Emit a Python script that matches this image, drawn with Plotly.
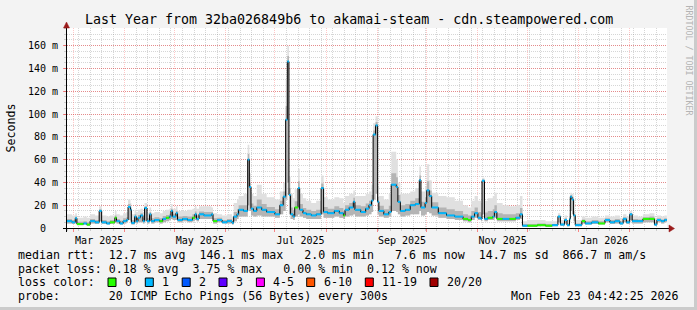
import plotly.graph_objects as go

# ---------------- data ----------------
dates = [
    "2025-02-25", "2025-02-28", "2025-03-02", "2025-03-03", "2025-03-07", "2025-03-09",
    "2025-03-11", "2025-03-14", "2025-03-16 12:00", "2025-03-18", "2025-03-21", "2025-03-23",
    "2025-03-26", "2025-03-27", "2025-03-29", "2025-03-31", "2025-04-02", "2025-04-03",
    "2025-04-04 12:00", "2025-04-05", "2025-04-07", "2025-04-08", "2025-04-09", "2025-04-10 12:00",
    "2025-04-12", "2025-04-13", "2025-04-14 12:00", "2025-04-16", "2025-04-17", "2025-04-19",
    "2025-04-22", "2025-04-24", "2025-04-26", "2025-04-28", "2025-04-29", "2025-04-30",
    "2025-05-02", "2025-05-03", "2025-05-06", "2025-05-09", "2025-05-12", "2025-05-13 12:00",
    "2025-05-14 12:00", "2025-05-16", "2025-05-19", "2025-05-23 12:00", "2025-05-24 12:00", "2025-05-27",
    "2025-05-30", "2025-06-02", "2025-06-05", "2025-06-06", "2025-06-08", "2025-06-09",
    "2025-06-12", "2025-06-14 12:00", "2025-06-15 12:00", "2025-06-16 12:00", "2025-06-18", "2025-06-20",
    "2025-06-23", "2025-06-26", "2025-07-01", "2025-07-04", "2025-07-06", "2025-07-07 12:00",
    "2025-07-08 12:00", "2025-07-09 12:00", "2025-07-10 12:00", "2025-07-12", "2025-07-13", "2025-07-15",
    "2025-07-16", "2025-07-18", "2025-07-20", "2025-07-23", "2025-07-26", "2025-07-29",
    "2025-07-30 12:00", "2025-08-02", "2025-08-06", "2025-08-09", "2025-08-11 12:00", "2025-08-12 12:00",
    "2025-08-15", "2025-08-17 12:00", "2025-08-18 12:00", "2025-08-22", "2025-08-25", "2025-08-27",
    "2025-08-28 12:00", "2025-08-29 12:00", "2025-08-31", "2025-09-01 06:00", "2025-09-02", "2025-09-05",
    "2025-09-08", "2025-09-09 12:00", "2025-09-12 12:00", "2025-09-13 12:00", "2025-09-15", "2025-09-18",
    "2025-09-21", "2025-09-24", "2025-09-26 12:00", "2025-09-27 12:00", "2025-09-30", "2025-10-01",
    "2025-10-02 12:00", "2025-10-04", "2025-10-08", "2025-10-13", "2025-10-18", "2025-10-23",
    "2025-10-26", "2025-10-28", "2025-10-30", "2025-11-01", "2025-11-03", "2025-11-03 12:00",
    "2025-11-05", "2025-11-07", "2025-11-10", "2025-11-11", "2025-11-12 12:00", "2025-11-16",
    "2025-11-20", "2025-11-24", "2025-11-26 12:00", "2025-11-28", "2025-12-01", "2025-12-07",
    "2025-12-12", "2025-12-16", "2025-12-19 12:00", "2025-12-21", "2025-12-23 12:00", "2025-12-25",
    "2025-12-26 12:00", "2025-12-27", "2025-12-28", "2025-12-29", "2025-12-30", "2026-01-03",
    "2026-01-05", "2026-01-09", "2026-01-13", "2026-01-17", "2026-01-20", "2026-01-23",
    "2026-01-26", "2026-01-28", "2026-01-30", "2026-02-01", "2026-02-02 12:00", "2026-02-06",
    "2026-02-09", "2026-02-13", "2026-02-16", "2026-02-17 12:00", "2026-02-20", "2026-02-22",
    "2026-02-23 12:00",
]

median_ms = [
    6, 5, 8.5, 3.5, 4, 3,
    6, 5, 15, 5, 4, 5,
    9, 6, 4, 6, 7, 18.5,
    16, 4.5, 10, 6, 9, 11,
    6, 17.5, 6, 12, 6, 7,
    6, 8, 9, 10, 15, 10,
    13, 7, 8, 7, 9, 12,
    8, 12, 11, 12, 6, 7,
    5, 6, 4.5, 10, 12, 16,
    15, 60, 36, 17, 15, 18,
    16, 14, 12, 20, 27.5, 95,
    146, 29, 12, 10, 18, 35,
    16, 13, 12, 11, 12, 35,
    14, 13, 15, 13, 11, 16,
    18, 23, 16, 14, 17, 20,
    24, 82, 90, 23, 15, 12,
    14, 38, 36, 23, 15, 16,
    20, 21, 42, 18, 22, 33,
    28, 18, 13, 11, 10, 8,
    7, 10, 13, 9, 8, 41.5,
    8, 9, 10, 14, 8, 8,
    8, 9, 12, 2, 2, 2.5,
    2, 2.5, 10, 3, 7, 2.5,
    8, 27.5, 25, 11, 2.5, 6,
    4, 5, 4, 7, 5, 6,
    4, 8, 5, 12, 6, 6,
    8, 8, 3, 7, 6, 7,
    7,
]

# lost pings per step (0 -> green, 1 -> light blue)
loss_pings = [
    1, 1, 1, 0, 1, 0,
    1, 1, 1, 1, 1, 0,
    0, 1, 1, 1, 1, 1,
    1, 1, 1, 1, 1, 1,
    1, 1, 1, 1, 1, 1,
    0, 1, 0, 1, 1, 1,
    1, 1, 1, 1, 0, 1,
    1, 1, 1, 1, 0, 1,
    1, 1, 1, 1, 1, 1,
    1, 1, 1, 1, 1, 1,
    1, 1, 1, 1, 1, 1,
    1, 1, 1, 1, 0, 1,
    1, 1, 1, 1, 1, 1,
    1, 1, 1, 1, 0, 1,
    1, 1, 1, 1, 1, 1,
    1, 1, 1, 1, 1, 1,
    1, 1, 1, 1, 1, 1,
    1, 1, 1, 1, 1, 1,
    1, 1, 1, 1, 1, 0,
    0, 1, 1, 1, 1, 1,
    1, 0, 1, 1, 0, 1,
    0, 1, 1, 1, 0, 0,
    0, 1, 1, 1, 1, 1,
    1, 1, 1, 1, 1, 0,
    1, 1, 0, 1, 1, 1,
    1, 1, 1, 1, 1, 1,
    0, 0, 1, 1, 1, 1,
    1,
]

# highest ping (top of the light smoke)
smoke_hi_ms = [
    12, 11, 13, 9, 10, 9,
    12, 11, 19, 11, 10, 11,
    15, 12, 11, 13, 14, 25,
    22, 12, 16, 14, 16, 17,
    14, 22, 13, 18, 13, 14,
    13, 15, 16, 17, 21, 17,
    19, 15, 15, 16, 17, 19,
    17, 19, 19, 18, 13, 12,
    11, 12, 10, 22, 25, 28,
    30, 73, 48, 30, 28, 38,
    30, 27, 25, 32, 40, 130,
    160, 45, 30, 26, 34, 52,
    30, 26, 24, 22, 24, 46,
    27, 25, 27, 26, 22, 28,
    30, 33, 28, 28, 30, 32,
    38, 92, 98, 36, 28, 25,
    30, 67, 60, 40, 30, 30,
    32, 35, 54, 32, 36, 56,
    42, 31, 28, 27, 24, 20,
    18, 24, 28, 24, 22, 44,
    24, 26, 28, 31, 22, 20,
    19, 20, 28, 6, 7, 7,
    6, 6, 13, 7, 11, 7,
    13, 31, 30, 15, 7, 10,
    9, 10, 9, 11, 10, 11,
    9, 12, 10, 15, 11, 10,
    12, 13, 9, 11, 10, 11,
    11,
]

# top of the dense (dark) part of the smoke
smoke_mid_ms = [
    8, 7, 10, 5.5, 6, 5,
    8, 7, 16.5, 7, 6, 7,
    11, 8, 6.5, 8.5, 9.5, 21,
    18, 7, 12, 9, 11.5, 13,
    9, 19, 8.5, 14, 8.5, 9.5,
    8.5, 10.5, 11.5, 12.5, 17, 12.5,
    15, 10, 10.5, 10, 12, 14.5,
    11, 14.5, 14, 14, 8.5, 9,
    7, 8, 6.5, 14, 16.5, 20,
    20, 65, 40, 21.5, 19.5, 25,
    21, 18.5, 16.5, 24, 32, 107,
    151, 35, 18, 15.5, 23.5, 41,
    21, 17.5, 16, 15, 16, 39,
    18.5, 17, 19, 17.5, 15, 20,
    22, 26.5, 20, 19, 21.5, 24,
    29, 85.5, 93, 27.5, 19.5, 16.5,
    19.5, 48, 44.5, 29, 20, 21,
    24, 26, 46, 23, 27, 41,
    33, 22.5, 18, 16.5, 15, 12,
    11, 15, 18, 14, 13, 42.5,
    13.5, 15, 16.5, 20, 13, 12,
    12, 13, 17.5, 3.5, 3.5, 4,
    3.5, 3.5, 11, 4.5, 8.5, 4,
    10, 29, 27, 12.5, 4, 7.5,
    6, 7, 6, 8.5, 7, 8,
    6, 9.5, 7, 13, 8, 7.5,
    9.5, 10, 5, 8.5, 7.5, 8.5,
    8.5,
]

# lowest ping (bottom of the smoke)
smoke_lo_ms = [
    4, 3.5, 5, 2.5, 3, 2,
    4, 3.5, 6, 3.5, 3, 3.5,
    5, 4, 3, 4, 5, 7,
    6, 3, 5, 4, 5, 5,
    4, 6, 4, 6, 4, 5,
    4, 5, 6, 7, 8, 7,
    7, 5, 6, 5, 6, 7,
    6, 8, 8, 8, 4, 5,
    4, 4, 3, 6, 8, 10,
    10, 20, 15, 11, 10, 11,
    10, 10, 9, 12, 15, 25,
    40, 12, 8, 7, 10, 12,
    10, 9, 8, 8, 8, 12,
    9, 9, 10, 9, 8, 10,
    11, 12, 10, 10, 11, 12,
    14, 25, 30, 12, 10, 9,
    10, 15, 14, 12, 10, 11,
    12, 12, 15, 11, 12, 14,
    13, 11, 9, 8, 7, 6,
    5, 7, 9, 7, 6, 12,
    6, 7, 7, 9, 6, 6,
    6, 7, 8, 1, 1, 1.5,
    1, 1.5, 5, 2, 4, 1.5,
    5, 15, 12, 6, 1.5, 4,
    3, 3.5, 3, 5, 3.5, 4,
    3, 5, 3.5, 7, 4, 4,
    5, 5, 2, 5, 4, 5,
    5,
]

y_tick_vals = [0, 20, 40, 60, 80, 100, 120, 140, 160]
y_tick_text = ["0\u00a0\u00a0", "20 m", "40 m", "60 m", "80 m", "100 m", "120 m", "140 m", "160 m"]
hidden_month_labels = ["Feb 2025", "Apr 2025", "Jun 2025", "Aug 2025", "Oct 2025", "Dec 2025", "Feb 2026"]

title_text = "Last Year from 32ba026849b6 to akamai-steam - cdn.steampowered.com"
legend_rtt = "median rtt:  12.7 ms avg  146.1 ms max   2.0 ms min   7.6 ms now  14.7 ms sd  866.7 m am/s"
legend_loss = "packet loss: 0.18 % avg  3.75 % max   0.00 % min  0.12 % now"
loss_color_labels = ["0", "1", "2", "3", "4-5", "6-10", "11-19", "20/20"]
loss_color_values = ["#26ff00", "#00b8ff", "#0059ff", "#5e00ff", "#ff00ff", "#ff5500", "#ff0000", "#a00000"]
probe_text = "probe:       20 ICMP Echo Pings (56 Bytes) every 300s"
stamp_text = "Mon Feb 23 04:42:25 2026"

# ---------------- geometry ----------------
W, H = 697, 310
L, R, T, B = 67, 667, 28, 228
PW, PH = R - L, B - T
MONO = "DejaVu Sans Mono"


def px(x):
    return (x - L) / PW


def py(y):
    return (B - y) / PH


fig = go.Figure()

# light smoke: lowest .. highest ping
fig.add_trace(go.Scatter(x=dates, y=smoke_lo_ms, mode="lines", line=dict(width=0, shape="hv"),
                         hoverinfo="skip", showlegend=False))
fig.add_trace(go.Scatter(x=dates, y=smoke_hi_ms, mode="lines", line=dict(width=0, shape="hv"),
                         fill="tonexty", fillcolor="#e0e0e0", hoverinfo="skip", showlegend=False))
# dense smoke: lowest .. mid
fig.add_trace(go.Scatter(x=dates, y=smoke_lo_ms, mode="lines", line=dict(width=0, shape="hv"),
                         hoverinfo="skip", showlegend=False))
fig.add_trace(go.Scatter(x=dates, y=smoke_mid_ms, mode="lines", line=dict(width=0, shape="hv"),
                         fill="tonexty", fillcolor="#b4b4b4", hoverinfo="skip", showlegend=False))

# median line
fig.add_trace(go.Scatter(x=dates, y=median_ms, mode="lines", line=dict(width=1, color="#000000", shape="hv"),
                         hoverinfo="skip", showlegend=False))

# loss-coloured horizontal pieces of the median
for cls, col in [(0, loss_color_values[0]), (1, loss_color_values[1])]:
    xs, ys = [], []
    for i in range(len(dates) - 1):
        if loss_pings[i] == cls:
            xs += [dates[i], dates[i + 1], None]
            ys += [median_ms[i], median_ms[i], None]
    fig.add_trace(go.Scatter(x=xs, y=ys, mode="lines", line=dict(width=2, color=col),
                             hoverinfo="skip", showlegend=False, connectgaps=False))

MAJ_X = "rgba(255,0,0,0.22)"
MAJ_Y = "rgba(255,0,0,0.35)"
MIN = "rgba(120,120,120,0.30)"

fig.update_xaxes(
    type="date", range=["2025-02-25 00:00", "2026-02-23 14:24"],
    dtick="M1", tick0="2025-03-01", tickformat="%b %Y", ticklabelmode="period",
    labelalias={m: "" for m in hidden_month_labels},
    showgrid=True, gridcolor=MAJ_X, griddash="1px,1px", gridwidth=1,
    ticks="outside", ticklen=3, tickcolor="rgba(255,0,0,0.45)", showline=False, zeroline=False,
    tickfont=dict(family=MONO, size=10, color="#000000"),
    minor=dict(dtick=7 * 24 * 3600 * 1000, tick0="2025-03-04", showgrid=True, gridcolor=MIN,
               griddash="1px,1px", ticks="outside", ticklen=2, tickcolor=MIN),
)
fig.update_yaxes(
    range=[0, 175.5], tickmode="array", tickvals=y_tick_vals, ticktext=y_tick_text,
    showgrid=True, gridcolor=MAJ_Y, griddash="1px,1px", ticks="outside", ticklen=3,
    tickcolor="rgba(255,0,0,0.45)",
    ticklabelstandoff=3, showline=False, zeroline=False,
    tickfont=dict(family=MONO, size=10, color="#000000"),
    minor=dict(tickmode="linear", tick0=0, dtick=5, showgrid=True, gridcolor=MIN, griddash="1px,1px",
               ticks="outside", ticklen=2, tickcolor=MIN),
)

shapes = []
# canvas 3D edges
shapes.append(dict(type="rect", xref="paper", yref="paper", x0=px(694), x1=px(697), y0=py(0), y1=py(310),
                   fillcolor="#cbcbcb", line=dict(width=0), layer="above"))
shapes.append(dict(type="rect", xref="paper", yref="paper", x0=px(0), x1=px(697), y0=py(307), y1=py(310),
                   fillcolor="#cbcbcb", line=dict(width=0), layer="above"))
# axes
shapes.append(dict(type="line", xref="paper", yref="paper", x0=px(63), x1=px(670), y0=py(228.5), y1=py(228.5),
                   line=dict(color="#000000", width=1), layer="above"))
shapes.append(dict(type="line", xref="paper", yref="paper", x0=px(66.5), x1=px(66.5), y0=py(232), y1=py(26),
                   line=dict(color="#000000", width=1), layer="above"))
# arrows
ax_arrow = "M {} {} L {} {} L {} {} Z".format(px(669), py(225), px(674.5), py(228.5), px(669), py(232))
ay_arrow = "M {} {} L {} {} L {} {} Z".format(px(63.5), py(28), px(66.5), py(22), px(69.5), py(28))
for p in (ax_arrow, ay_arrow):
    shapes.append(dict(type="path", xref="paper", yref="paper", path=p, fillcolor="#9b1b1b",
                       line=dict(color="#9b1b1b", width=0.5), layer="above"))

annotations = []


def txt(x, y, s, size=11.6, anchor="left", color="#000000", angle=0):
    annotations.append(dict(xref="paper", yref="paper", x=px(x), y=py(y), text=s, showarrow=False,
                            xanchor=anchor, yanchor="middle", textangle=angle,
                            font=dict(family=MONO, size=size, color=color)))


txt(348.5, 19, title_text, size=13.3, anchor="center")
txt(10.5, 128, "Seconds", size=11.6, anchor="center", angle=-90)
txt(688.5, 60, "RRDTOOL / TOBI OETIKER", size=8.3, anchor="center", color="#b4b4b4", angle=90)
txt(16, 255, legend_rtt.replace(" ", "\u00a0"))
txt(16, 268.5, legend_loss.replace(" ", "\u00a0"))
txt(16, 282, "loss\u00a0color:")
txt(16, 296, probe_text.replace(" ", "\u00a0"))
txt(680.5, 296, stamp_text.replace(" ", "\u00a0"), anchor="right")

# loss colour boxes
box_left = [108, 145.3, 182.2, 219, 256.4, 306.7, 365.3, 430]
for bx, lab, col in zip(box_left, loss_color_labels, loss_color_values):
    shapes.append(dict(type="rect", xref="paper", yref="paper", x0=px(bx), x1=px(bx + 8),
                       y0=py(286.5), y1=py(278), fillcolor=col, line=dict(color="#000000", width=1),
                       layer="above"))
    txt(bx + 15, 282, lab)

fig.update_layout(
    width=W, height=H, margin=dict(l=L, r=W - R, t=T, b=H - B, pad=0),
    paper_bgcolor="#f3f3f3", plot_bgcolor="#ffffff", showlegend=False,
    shapes=shapes, annotations=annotations,
)

fig.write_html("out.html")
